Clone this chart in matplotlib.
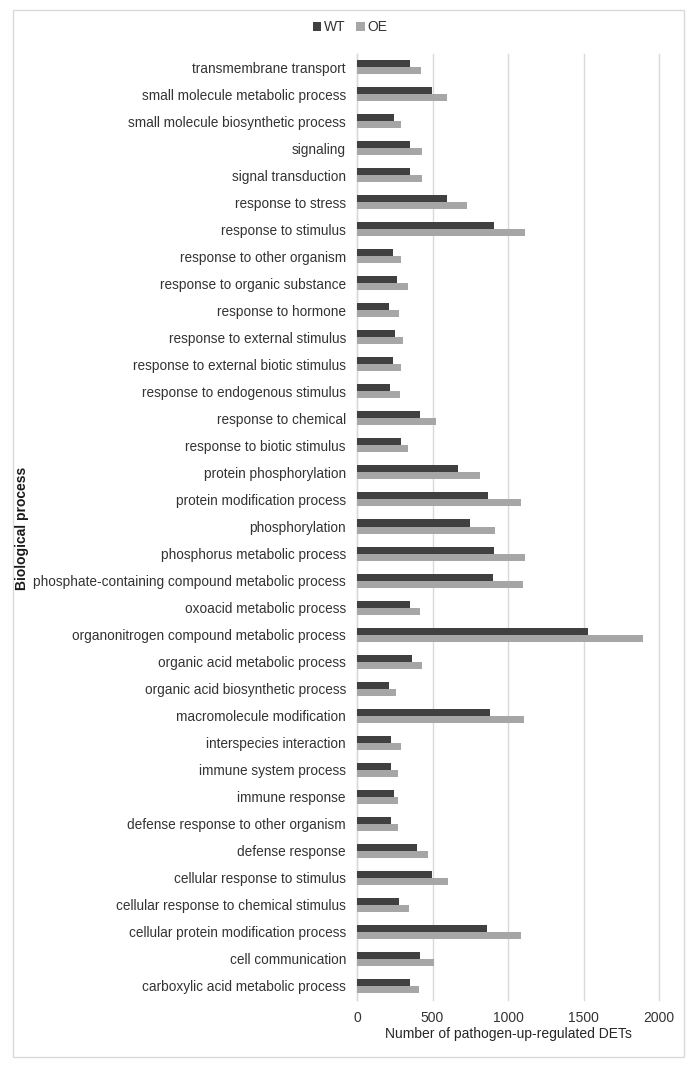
import numpy as np
import matplotlib
matplotlib.use("Agg")
from matplotlib import pyplot as plt
from matplotlib.patches import Rectangle

plt.rcParams['font.family'] = ['Liberation Sans', 'DejaVu Sans']

# categories top -> bottom
categories = [
    "transmembrane transport",
    "small molecule metabolic process",
    "small molecule biosynthetic process",
    "signaling",
    "signal transduction",
    "response to stress",
    "response to stimulus",
    "response to other organism",
    "response to organic substance",
    "response to hormone",
    "response to external stimulus",
    "response to external biotic stimulus",
    "response to endogenous stimulus",
    "response to chemical",
    "response to biotic stimulus",
    "protein phosphorylation",
    "protein modification process",
    "phosphorylation",
    "phosphorus metabolic process",
    "phosphate-containing compound metabolic process",
    "oxoacid metabolic process",
    "organonitrogen compound metabolic process",
    "organic acid metabolic process",
    "organic acid biosynthetic process",
    "macromolecule modification",
    "interspecies interaction",
    "immune system process",
    "immune response",
    "defense response to other organism",
    "defense response",
    "cellular response to stimulus",
    "cellular response to chemical stimulus",
    "cellular protein modification process",
    "cell communication",
    "carboxylic acid metabolic process",
]

wt = [350, 496, 248, 350, 350, 597, 907,
      239, 263, 212, 252, 239, 219, 420, 290,
      668, 865, 748, 909, 903, 354, 1527,
      365, 212, 878, 223, 223, 243, 223, 396,
      498, 279, 863, 416, 350]
oe = [427, 597, 294, 431, 431, 726, 1115,
      290, 338, 279, 307, 290, 285, 522, 341,
      816, 1086, 914, 1115, 1102, 416, 1894,
      431, 259, 1106, 294, 270, 270, 270, 471,
      604, 345, 1086, 513, 412]

x_ticks = [0, 500, 1000, 1500, 2000]

fig = plt.figure(figsize=(6.96, 10.74), dpi=100)
ax = fig.add_axes([357 / 696, 1 - 999.5 / 1074, (659 - 357) / 696, (999.5 - 53.5) / 1074])

# outer chart border
fig.patches.append(Rectangle((13 / 696, 1 - 1057 / 1074), 671 / 696, 1047 / 1074,
                             transform=fig.transFigure, fill=False,
                             edgecolor="#d9d9d9", linewidth=1))

y = np.arange(len(categories))
h = 0.26
ax.barh(y - h / 2, wt, height=h, color="#404040", label="WT", zorder=3)
ax.barh(y + h / 2, oe, height=h, color="#a6a6a6", label="OE", zorder=3)

ax.set_ylim(len(categories) - 0.5, -0.5)
ax.set_xlim(0, 2000)
ax.set_xticks(x_ticks)
ax.set_yticks(y)
ax.set_yticklabels(categories, fontsize=9.8, color="#333333")
ax.tick_params(axis='x', labelsize=10, colors="#333333", length=0, pad=8)
ax.tick_params(axis='y', length=0, pad=8)

ax.grid(axis='x', color="#d9d9d9", linewidth=1, zorder=0)
for gl in ax.get_xgridlines():
    gl.set_clip_on(False)
for s in ["top", "right", "bottom"]:
    ax.spines[s].set_visible(False)
ax.spines["left"].set_color("#d9d9d9")
ax.spines["left"].set_linewidth(1)

ax.set_xlabel("Number of pathogen-up-regulated DETs", fontsize=10, color="#262626", labelpad=2)
fig.text(22 / 696, 1 - 528 / 1074, "Biological process", rotation=90, fontsize=10,
         fontweight="bold", color="#1a1a1a", ha="center", va="center")

fig.legend(loc="center", bbox_to_anchor=(350 / 696, 1 - 27 / 1074), ncol=2, frameon=False,
           fontsize=10, handlelength=0.6, handleheight=0.6, handletextpad=0.2,
           columnspacing=0.8, labelcolor="#333333")

fig.savefig("out.png", dpi=100)
